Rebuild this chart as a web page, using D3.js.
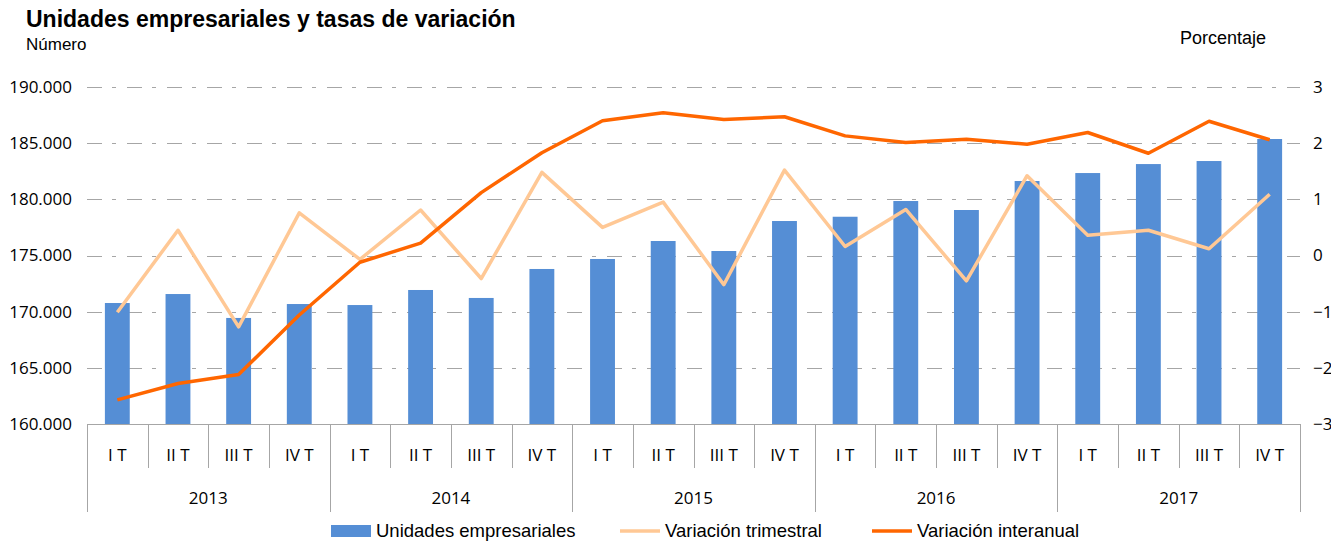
<!DOCTYPE html>
<html>
<head>
<meta charset="utf-8">
<script src="https://cdn.jsdelivr.net/npm/d3@7"></script>
<style>
  body { margin: 0; background: #fff; }
  text { font-family: "Liberation Sans", Arial, sans-serif; fill: #000; }
</style>
</head>
<body>
<div id="container"></div>
<script>
/* DATA */
const years = ["2013", "2014", "2015", "2016", "2017"];
const quarters = ["I T", "II T", "III T", "IV T"];
const unidades = [170770, 171570, 169440, 170680, 170590, 171930, 171220, 173800,
  174690, 176290, 175400, 178070, 178450, 179850, 179050, 181630,
  182340, 183140, 183410, 185370];
const varTrimestral = [-1.01, 0.45, -1.27, 0.76, -0.07, 0.81, -0.41, 1.48,
  0.50, 0.95, -0.52, 1.52, 0.16, 0.82, -0.45, 1.42,
  0.36, 0.45, 0.12, 1.09];
const varInteranual = [-2.57, -2.28, -2.12, -1.06, -0.12, 0.22, 1.12, 1.83,
  2.40, 2.54, 2.42, 2.47, 2.13, 2.01, 2.07, 1.98,
  2.19, 1.82, 2.39, 2.06];
const leftTicks = [160000, 165000, 170000, 175000, 180000, 185000, 190000];
const rightTicks = [-3, -2, -1, 0, 1, 2, 3];

/* CONSTANTS */
const width = 1331;
const height = 543;
const margin = { top: 87, right: 31, bottom: 119, left: 87 };

const keys = [];
years.forEach(y => quarters.forEach(q => keys.push(y + "|" + q)));

const svg = d3.select("#container")
  .append("svg")
  .attr("width", width)
  .attr("height", height);

/* SCALES */
const xScale = d3.scaleBand()
  .domain(keys)
  .range([margin.left, width - margin.right])
  .padding(0);

const yLeft = d3.scaleLinear()
  .domain([160000, 190000])
  .range([height - margin.bottom, margin.top]);

const yRight = d3.scaleLinear()
  .domain([-3, 3])
  .range([height - margin.bottom, margin.top]);

const fmt = d3.formatLocale({ decimal: ",", thousands: ".", grouping: [3], currency: ["", "€"] }).format(",");

const grey = "#a6a6a6";
const x0 = margin.left, x1 = width - margin.right;
const yBase = height - margin.bottom;

// GRIDLINES
svg.append("g")
  .selectAll("line")
  .data(leftTicks.filter(d => d > 160000))
  .join("line")
  .attr("x1", x0)
  .attr("x2", x1)
  .attr("y1", d => Math.round(yLeft(d)) + 0.5)
  .attr("y2", d => Math.round(yLeft(d)) + 0.5)
  .attr("stroke", grey)
  .attr("stroke-width", 1)
  .attr("stroke-dasharray", "15,10,4,11");

// BARS
const bw = xScale.bandwidth() * 0.41;
svg.append("g")
  .selectAll("rect")
  .data(unidades)
  .join("rect")
  .attr("x", (d, i) => xScale(keys[i]) + (xScale.bandwidth() - bw) / 2)
  .attr("y", d => yLeft(d))
  .attr("width", bw)
  .attr("height", d => yLeft(160000) - yLeft(d))
  .attr("fill", "#558ed5");

// LINES
const cx = i => xScale(keys[i]) + xScale.bandwidth() / 2;
const line = d3.line()
  .x((d, i) => cx(i))
  .y(d => yRight(d));

svg.append("path")
  .datum(varTrimestral)
  .attr("d", line)
  .attr("fill", "none")
  .attr("stroke", "#ffc895")
  .attr("stroke-width", 3.5)
  .attr("stroke-linejoin", "round");

svg.append("path")
  .datum(varInteranual)
  .attr("d", line)
  .attr("fill", "none")
  .attr("stroke", "#ff6600")
  .attr("stroke-width", 3.5)
  .attr("stroke-linejoin", "round");

// LEFT AXIS
const yAxisLeft = svg.append("g")
  .attr("transform", `translate(${x0},0)`)
  .call(d3.axisLeft(yLeft).tickValues(leftTicks).tickFormat(fmt).tickSize(0).tickPadding(15));
yAxisLeft.select(".domain").remove();
yAxisLeft.selectAll("text").style("font-size", "17px").attr("fill", "#000")
  .style("font-family", "'Open Sans', sans-serif");

// RIGHT AXIS
const yAxisRight = svg.append("g")
  .attr("transform", `translate(${x1},0)`)
  .call(d3.axisRight(yRight).tickValues(rightTicks).tickFormat(d3.format("d")).tickSize(0).tickPadding(13));
yAxisRight.select(".domain").remove();
yAxisRight.selectAll("text").style("font-size", "17px").attr("fill", "#000")
  .style("font-family", "'Open Sans', sans-serif");

// X AXIS (two levels)
const xAxis = svg.append("g");
xAxis.append("line")
  .attr("x1", x0).attr("x2", x1)
  .attr("y1", yBase + 0.5).attr("y2", yBase + 0.5)
  .attr("stroke", grey);

keys.forEach((k, i) => {
  const xb = Math.round(xScale(k)) + 0.5;
  const isYear = i % 4 === 0;
  xAxis.append("line")
    .attr("x1", xb).attr("x2", xb)
    .attr("y1", yBase).attr("y2", isYear ? 512 : 468)
    .attr("stroke", grey);
});
xAxis.append("line")
  .attr("x1", Math.round(x1) + 0.5).attr("x2", Math.round(x1) + 0.5)
  .attr("y1", yBase).attr("y2", 512)
  .attr("stroke", grey);

xAxis.selectAll("text.q")
  .data(keys)
  .join("text")
  .attr("class", "q")
  .attr("x", (d, i) => cx(i))
  .attr("y", 461)
  .attr("text-anchor", "middle")
  .style("font-size", "17px")
  .style("font-family", "'Open Sans', sans-serif")
  .text(d => d.split("|")[1]);

xAxis.selectAll("text.y")
  .data(years)
  .join("text")
  .attr("class", "y")
  .attr("x", d => (xScale(d + "|I T") + xScale(d + "|IV T") + xScale.bandwidth()) / 2)
  .attr("y", 504)
  .attr("text-anchor", "middle")
  .style("font-size", "17px")
  .style("font-family", "'Open Sans', sans-serif")
  .text(d => d);

// TITLES
svg.append("text")
  .attr("x", 26).attr("y", 27)
  .style("font-size", "23px").style("font-weight", "bold")
  .text("Unidades empresariales y tasas de variación");
svg.append("text")
  .attr("x", 26).attr("y", 50)
  .style("font-size", "17px")
  .text("Número");
svg.append("text")
  .attr("x", 1180).attr("y", 44)
  .style("font-size", "18px")
  .text("Porcentaje");

// LEGEND
const legend = svg.append("g");
legend.append("rect")
  .attr("x", 331).attr("y", 525).attr("width", 40).attr("height", 12)
  .attr("fill", "#558ed5");
legend.append("text").attr("x", 376).attr("y", 537).style("font-size", "18.5px")
  .text("Unidades empresariales");
legend.append("line")
  .attr("x1", 620).attr("x2", 660).attr("y1", 531).attr("y2", 531)
  .attr("stroke", "#ffc895").attr("stroke-width", 3.5);
legend.append("text").attr("x", 665).attr("y", 537).style("font-size", "18.5px")
  .text("Variación trimestral");
legend.append("line")
  .attr("x1", 872).attr("x2", 912).attr("y1", 531).attr("y2", 531)
  .attr("stroke", "#ff6600").attr("stroke-width", 3.5);
legend.append("text").attr("x", 917).attr("y", 537).style("font-size", "18.5px")
  .text("Variación interanual");
</script>
</body>
</html>
